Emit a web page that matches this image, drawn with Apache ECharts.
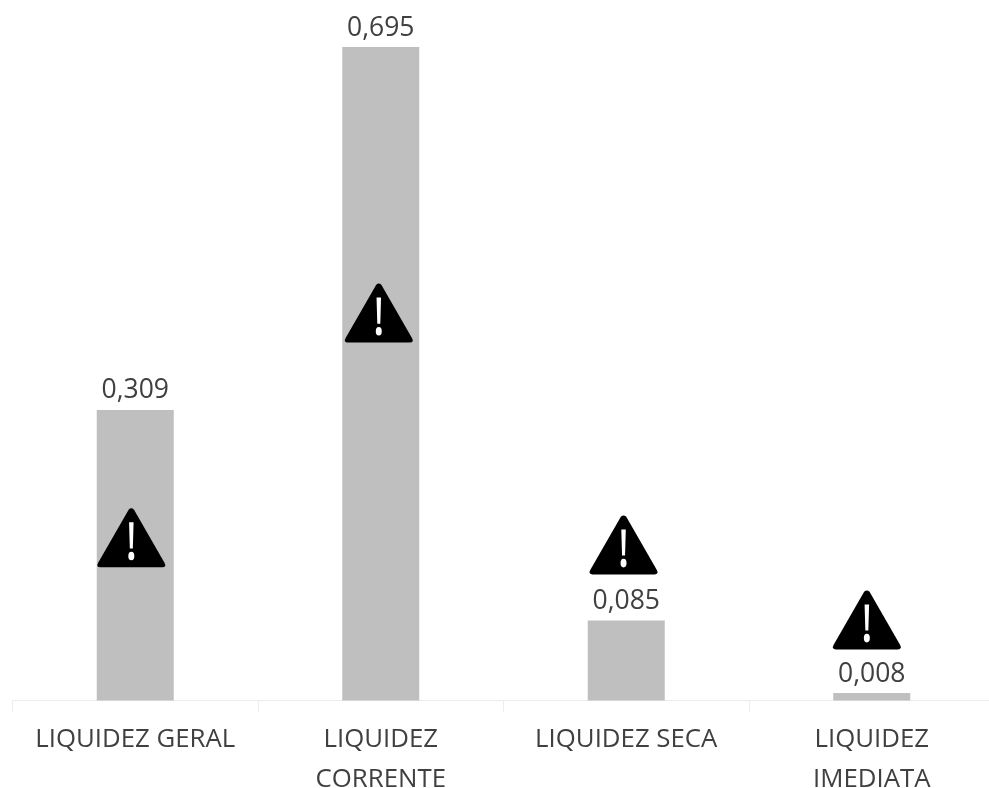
<!DOCTYPE html>
<html><head><meta charset="utf-8"><style>html,body{margin:0;padding:0;background:#fff}#c{width:989px;height:788px}</style>
<script src="https://cdn.jsdelivr.net/npm/echarts@6/dist/echarts.min.js"></script></head><body><div id="c"></div>
<script>
const categories=['LIQUIDEZ GERAL','LIQUIDEZ\nCORRENTE','LIQUIDEZ SECA','LIQUIDEZ\nIMEDIATA'];
const values=[0.309,0.695,0.085,0.008];
const warnX=[0.484,1.492,2.489,3.48];
const warnY=[0.173,0.412,0.1655,0.0857];
const warnPoints=warnX.map((x,i)=>[x,warnY[i]]);
const tri='path://M46 3 Q50 -1 54 3 L99 80 Q103 87 96 87 L4 87 Q-3 87 1 80 Z';
const bang='path://M2 0 L8 0 L7 24 L3 24 Z M5 27 A4 4 0 1 1 4.99 27 Z';
const chart=echarts.init(document.getElementById('c'),null,{renderer:'canvas'});
const font='"Open Sans"';
chart.setOption({animation:false,
grid:{left:12.5,top:47,width:982,height:653.5,outerBoundsMode:'none'},
xAxis:[{type:'category',data:categories,axisTick:{show:true,length:11,lineStyle:{color:'#ececec'}},axisLine:{lineStyle:{color:'#ececec'}},
axisLabel:{color:'#404040',fontFamily:font,fontSize:25.8,lineHeight:40,margin:19,interval:0,hideOverlap:false}},
{type:'value',min:0,max:4,show:false,splitLine:{show:false}}],
yAxis:{type:'value',min:0,max:0.695,show:false,splitLine:{show:false}},
series:[{type:'bar',data:values,barWidth:77,itemStyle:{color:'#bfbfbf'},
label:{show:true,position:'top',distance:5.5,fontFamily:font,fontSize:26.5,color:'#404040',formatter:p=>p.value.toFixed(3).replace('.',',')}},
{type:'scatter',xAxisIndex:1,data:warnPoints,symbol:tri,symbolSize:[68,59],itemStyle:{color:'#000',opacity:1},z:5},
{type:'scatter',xAxisIndex:1,data:warnPoints,symbol:bang,symbolSize:[6,38],symbolOffset:[0,3.5],itemStyle:{color:'#fff',opacity:1},z:6}]
});
</script></body></html>
